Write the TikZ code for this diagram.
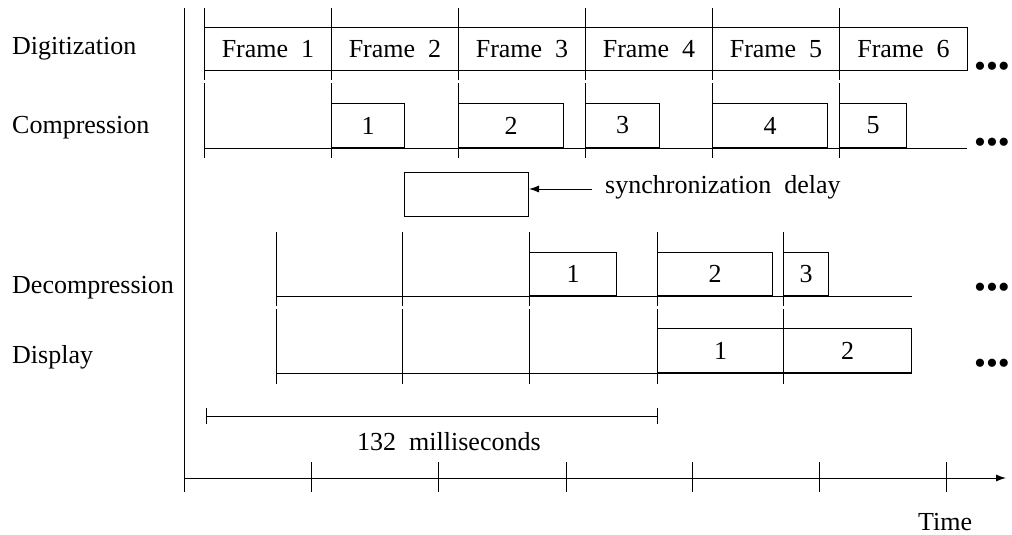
\documentclass[tikz,border=0pt]{standalone}
\usepackage{fontspec}
\setmainfont{Liberation Serif}
\usetikzlibrary{arrows.meta}
\begin{document}
\begin{tikzpicture}[x=1pt,y=-1pt,
  thin line/.style={line width=1pt},
  bx/.style={draw, line width=1pt, anchor=south west, minimum height=44pt,
    inner sep=0pt, font=\fontsize{26}{30}\selectfont},
  lbl/.style={anchor=base west, inner sep=0pt, font=\fontsize{26}{30}\selectfont},
  more/.style={anchor=center, inner sep=0pt, font=\fontsize{34}{40}\selectfont}]
\useasboundingbox (0,0) rectangle (1012,535);

% row labels
\node[lbl] (ldig) at (12,55) {Digitization};
\node[lbl] (lcomp) at (12,133) {Compression};
\node[lbl] (ldec) at (12,293) {Decompression};
\node[lbl] (ldisp) at (12,363) {Display};

% time axis
\draw[thin line] (184,8) -- (184,492);
\coordinate (t0) at (184,478);
\coordinate (t1) at (1006,478);
\draw[thin line, -{Latex[length=10pt,width=7pt]}] (t0) -- (t1);
\foreach \x in {311,438,566,692,819,946}
  \draw[thin line] (\x,462) -- (\x,492);
\node[lbl] (ltime) at (918,530) {Time};

% digitization row
\foreach \x in {204,331,458,585,712,839}
  \draw[thin line] (\x,8) -- (\x,80);
\node[bx, minimum width=127pt, minimum height=43pt] (f1) at (204,71) {Frame\ \ 1};
\node[bx, minimum width=127pt, minimum height=43pt] (f2) at (331,71) {Frame\ \ 2};
\node[bx, minimum width=127pt, minimum height=43pt] (f3) at (458,71) {Frame\ \ 3};
\node[bx, minimum width=127pt, minimum height=43pt] (f4) at (585,71) {Frame\ \ 4};
\node[bx, minimum width=127pt, minimum height=43pt] (f5) at (712,71) {Frame\ \ 5};
\node[bx, minimum width=128pt, minimum height=43pt] (f6) at (839,71) {Frame\ \ 6};
\node[more] (mdig) at (992,70) {\textbullet\textbullet\textbullet};

% compression row
\foreach \x in {204,331,458,585,712,839}
  \draw[thin line] (\x,83) -- (\x,158);
\draw[thin line] (204,148) -- (967,148);
\node[bx, minimum width=73pt] (c1) at (331,148) {1};
\node[bx, minimum width=105pt] (c2) at (458,148) {2};
\node[bx, minimum width=74pt] (c3) at (585,148) {3};
\node[bx, minimum width=115pt] (c4) at (712,148) {4};
\node[bx, minimum width=67pt] (c5) at (839,148) {5};
\node[more] (mcomp) at (992,146) {\textbullet\textbullet\textbullet};

% synchronization delay
\node[bx, minimum width=124pt] (sync) at (404,217) {};
\node[lbl] (lsync) at (605,193) {synchronization\ \ delay};
\coordinate (stail) at (592,189);
\draw[thin line, -{Latex[length=10pt,width=7pt]}] (stail) -- (sync.east |- stail);

% decompression row
\foreach \x in {276,402,529,657,783}
  \draw[thin line] (\x,232) -- (\x,306);
\draw[thin line] (276,296) -- (912,296);
\node[bx, minimum width=87pt, minimum height=43pt] (d1) at (529,296) {1};
\node[bx, minimum width=115pt, minimum height=43pt] (d2) at (657,296) {2};
\node[bx, minimum width=45pt, minimum height=43pt] (d3) at (783,296) {3};
\node[more] (mdec) at (992,291) {\textbullet\textbullet\textbullet};

% display row
\foreach \x in {276,402,529,657,783}
  \draw[thin line] (\x,309) -- (\x,384);
\draw[thin line] (276,373) -- (912,373);
\node[bx, minimum width=126pt] (p1) at (657,373) {1};
\node[bx, minimum width=128pt] (p2) at (783,373) {2};
\node[more] (mdisp) at (992,367) {\textbullet\textbullet\textbullet};

% latency bracket
\coordinate (ms0) at (206,416);
\coordinate (ms1) at (657,416);
\draw[thin line] (ms0) -- (ms1);
\draw[thin line] (206,408) -- (206,424);
\draw[thin line] (657,408) -- (657,424);
\node[lbl] (lms) at (357,450) {132\ \ milliseconds};
\end{tikzpicture}
\end{document}
